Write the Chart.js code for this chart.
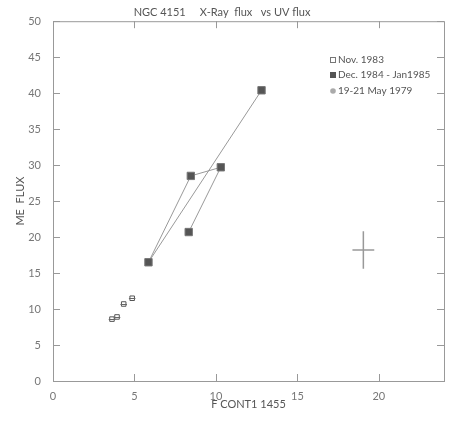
<!DOCTYPE html>
<html>
<head>
<meta charset="utf-8">
<script src="https://cdn.jsdelivr.net/npm/chart.js@4/dist/chart.umd.min.js"></script>
<style>
  html, body { margin: 0; padding: 0; background: #fff; }
  #wrap { width: 455px; height: 422px; }
</style>
</head>
<body>
<div id="wrap"><canvas id="c" width="455" height="422"></canvas></div>
<script>
// Nov. 1983 (open squares, small horizontal error bars)
var novX = [3.62, 3.93, 4.34, 4.86];
var novY = [8.6, 8.9, 10.7, 11.5];
var novXErr = [0.2, 0.2, 0.2, 0.2];

// Dec. 1984 - Jan 1985 (filled squares, joined in order)
var decX = [8.33, 10.3, 8.46, 5.86, 12.8];
var decY = [20.7, 29.7, 28.5, 16.5, 40.4];

// 19-21 May 1979 (no visible point)
var mayX = [];
var mayY = [];

// representative error cross
var errX = [19.05], errY = [18.2], errXErr = [0.67], errYErr = [2.6];

var xTicks = [0, 5, 10, 15, 20];
var yTicks = [0, 5, 10, 15, 20, 25, 30, 35, 40, 45, 50];

var seriesLabels = ['Nov. 1983', 'Dec. 1984 - Jan1985', '19-21 May 1979'];

function pts(xs, ys) {
  var out = [];
  for (var i = 0; i < xs.length; i++) out.push({x: xs[i], y: ys[i]});
  return out;
}

var font = 'Lato, "DejaVu Sans", sans-serif';

var framePlugin = {
  id: 'frame',
  afterDatasetsDraw: function(chart) {
    var ctx = chart.ctx, a = chart.chartArea;
    var xs = chart.scales.x, ys = chart.scales.y;
    ctx.save();
    ctx.strokeStyle = '#999';
    ctx.lineWidth = 1;
    ctx.strokeRect(a.left + 0.5, a.top + 0.5, a.right - a.left, a.bottom - a.top);
    ctx.beginPath();
    xTicks.forEach(function(v) {
      var px = Math.round(xs.getPixelForValue(v)) + 0.5;
      ctx.moveTo(px, a.bottom); ctx.lineTo(px, a.bottom - 7);
      ctx.moveTo(px, a.top); ctx.lineTo(px, a.top + 7);
    });
    yTicks.forEach(function(v) {
      var py = Math.round(ys.getPixelForValue(v)) + 0.5;
      ctx.moveTo(a.left, py); ctx.lineTo(a.left + 7, py);
      ctx.moveTo(a.right, py); ctx.lineTo(a.right - 7, py);
    });
    ctx.stroke();

    // error bars
    ctx.strokeStyle = '#666';
    ctx.beginPath();
    for (var i = 0; i < novX.length; i++) {
      var py = Math.round(ys.getPixelForValue(novY[i])) + 0.5;
      ctx.moveTo(xs.getPixelForValue(novX[i] - novXErr[i]), py);
      ctx.lineTo(xs.getPixelForValue(novX[i] + novXErr[i]), py);
    }
    ctx.stroke();
    ctx.strokeStyle = '#999';
    ctx.lineWidth = 1.5;
    ctx.beginPath();
    for (var j = 0; j < errX.length; j++) {
      var cx = xs.getPixelForValue(errX[j]), cy = ys.getPixelForValue(errY[j]);
      ctx.moveTo(xs.getPixelForValue(errX[j] - errXErr[j]), cy);
      ctx.lineTo(xs.getPixelForValue(errX[j] + errXErr[j]), cy);
      ctx.moveTo(cx, ys.getPixelForValue(errY[j] - errYErr[j]));
      ctx.lineTo(cx, ys.getPixelForValue(errY[j] + errYErr[j]));
    }
    ctx.stroke();

    // legend inside the plot
    var lx = 333, ly = [60, 75, 91];
    ctx.font = '10px ' + font;
    ctx.textBaseline = 'middle';
    ctx.lineWidth = 1;
    ctx.strokeStyle = '#777';
    ctx.strokeRect(lx - 3 + 0.5, ly[0] - 3 + 0.5, 5, 5);
    ctx.fillStyle = '#555';
    ctx.fillRect(lx - 3, ly[1] - 3, 6, 6);
    ctx.fillStyle = '#aaa';
    ctx.beginPath(); ctx.arc(lx, ly[2], 2.8, 0, Math.PI * 2); ctx.fill();
    ctx.fillStyle = '#555';
    for (var k = 0; k < seriesLabels.length; k++) ctx.fillText(seriesLabels[k], lx + 5, ly[k]);
    ctx.restore();
  }
};

new Chart(document.getElementById('c').getContext('2d'), {
  type: 'scatter',
  data: {
    datasets: [
      {
        label: seriesLabels[0],
        data: pts(novX, novY),
        pointStyle: 'rect',
        pointRadius: 3.2,
        backgroundColor: '#fff',
        borderColor: '#555',
        borderWidth: 1
      },
      {
        label: seriesLabels[1],
        data: pts(decX, decY),
        showLine: true,
        borderColor: '#999',
        borderWidth: 1,
        pointStyle: 'rect',
        pointRadius: 5.2,
        pointBackgroundColor: '#555',
        pointBorderColor: '#777',
        pointBorderWidth: 1
      },
      {
        label: seriesLabels[2],
        data: pts(mayX, mayY),
        pointStyle: 'circle',
        pointRadius: 3,
        backgroundColor: '#aaa'
      }
    ]
  },
  options: {
    responsive: false,
    animation: false,
    layout: { padding: { left: 0, right: 11, top: 0, bottom: 0 } },
    plugins: {
      legend: { display: false },
      tooltip: { enabled: false },
      title: {
        display: true,
        text: 'NGC 4151     X-Ray  flux   vs UV flux',
        color: '#555',
        font: { family: font, size: 11, weight: 'normal' },
        padding: { top: 6, bottom: 2 }
      }
    },
    scales: {
      x: {
        type: 'linear',
        min: 0, max: 24,
        grid: { display: false },
        border: { display: false },
        ticks: {
          stepSize: 5, includeBounds: false,
          color: '#777', font: { family: font, size: 11 }, padding: 1
        },
        title: {
          display: true, text: 'F CONT1 1455', color: '#555',
          font: { family: font, size: 11 }, padding: { top: 0, bottom: 11 }
        },
        afterFit: function(s) { s.height = 41; }
      },
      y: {
        type: 'linear',
        min: 0, max: 50,
        grid: { display: false },
        border: { display: false },
        ticks: {
          stepSize: 5, color: '#777', font: { family: font, size: 11 }, padding: 4
        },
        title: {
          display: true, text: 'ME  FLUX', color: '#555',
          font: { family: font, size: 11 }, padding: { top: 14, bottom: 0 }
        },
        afterFit: function(s) { s.width = 53; }
      }
    }
  },
  plugins: [framePlugin]
});
</script>
</body>
</html>
